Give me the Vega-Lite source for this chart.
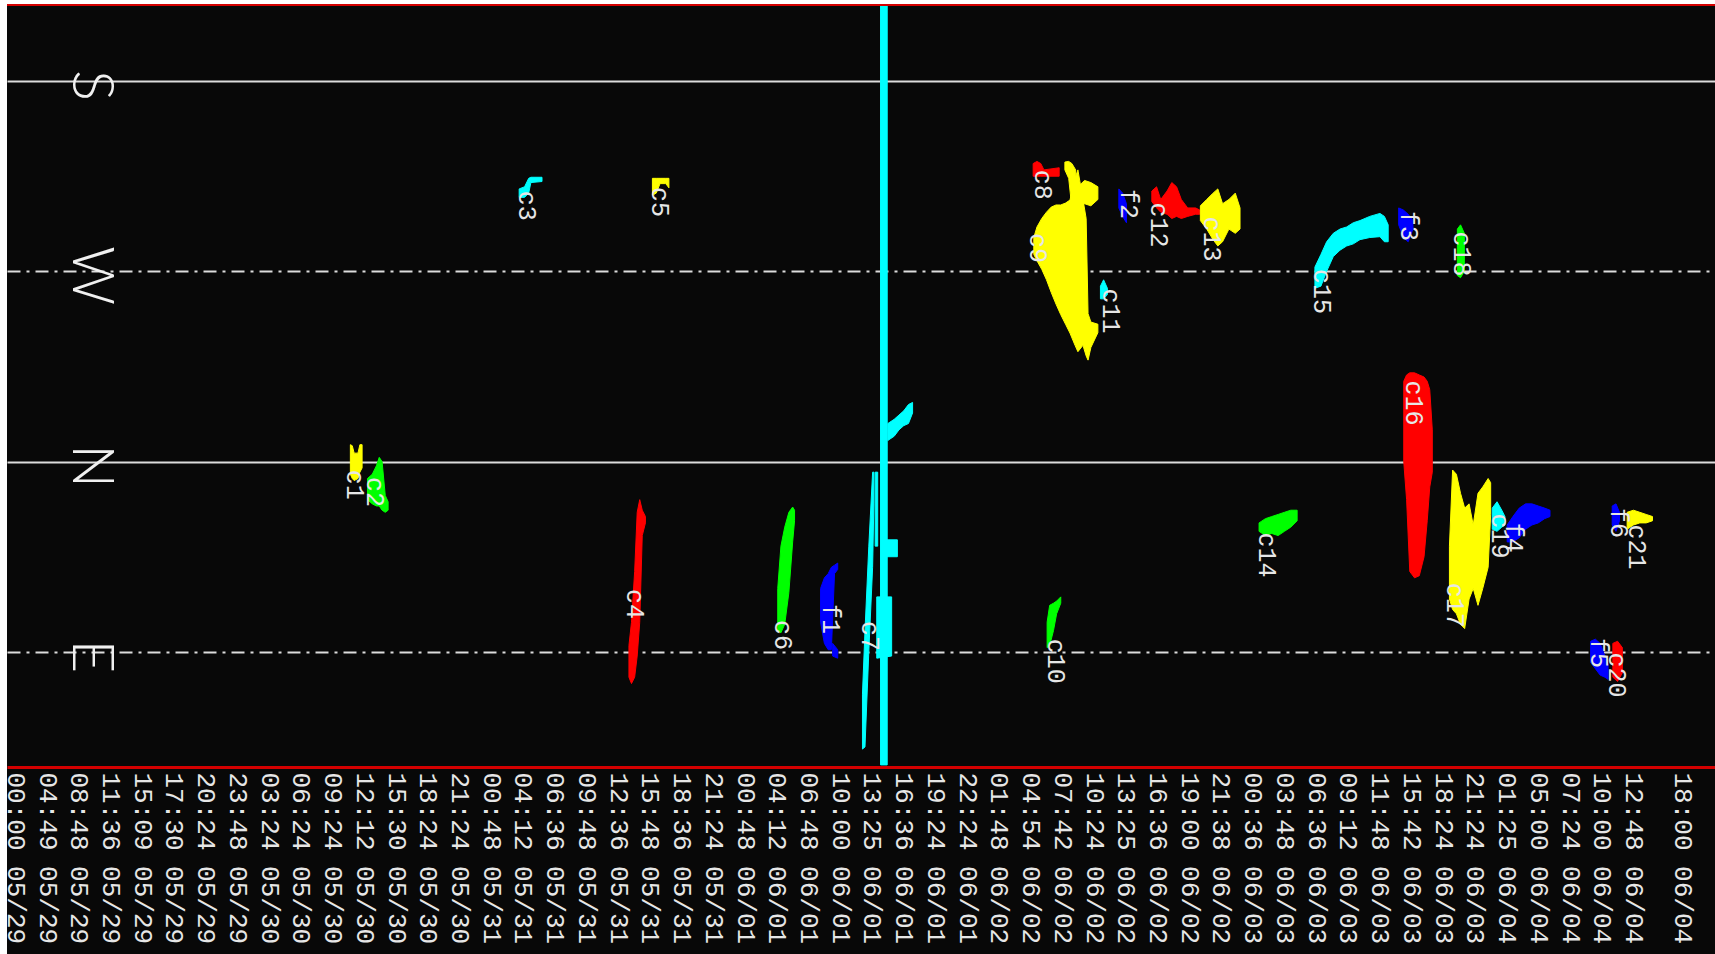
{
  "$schema": "https://vega.github.io/schema/vega-lite/v6.json",
  "width": 1708,
  "height": 949,
  "autosize": {"type": "none"},
  "padding": {"left": 7, "top": 5, "right": 0, "bottom": 0},
  "background": "#ffffff",
  "config": {"view": {"fill": "#080808", "stroke": null}},
  "datasets": {
    "clusters": [
      {"c":"c1","p":"c1","t":10.56,"lo":352,"hi":366},{"c":"c1","p":"c1","t":10.62,"lo":352.5,"hi":368},{"c":"c1","p":"c1","t":10.68,"lo":356,"hi":369},{"c":"c1","p":"c1","t":10.8,"lo":356,"hi":368},{"c":"c1","p":"c1","t":10.86,"lo":352,"hi":365},{"c":"c1","p":"c1","t":10.93,"lo":352,"hi":363},
      {"c":"c2","p":"c2","t":11.1,"lo":368,"hi":378},{"c":"c2","p":"c2","t":11.25,"lo":366,"hi":380},{"c":"c2","p":"c2","t":11.38,"lo":362,"hi":381},{"c":"c2","p":"c2","t":11.47,"lo":358,"hi":381},{"c":"c2","p":"c2","t":11.56,"lo":360,"hi":383},{"c":"c2","p":"c2","t":11.66,"lo":376,"hi":384},{"c":"c2","p":"c2","t":11.75,"lo":379,"hi":383},
      {"c":"c3","p":"c3","t":15.88,"lo":231,"hi":235},{"c":"c3","p":"c3","t":16.05,"lo":230,"hi":235},{"c":"c3","p":"c3","t":16.18,"lo":226,"hi":233},{"c":"c3","p":"c3","t":16.25,"lo":225.5,"hi":228},{"c":"c3","p":"c3","t":16.6,"lo":225.5,"hi":227.5},
      {"c":"c4","p":"c4","t":19.34,"lo":447,"hi":462},{"c":"c4","p":"c4","t":19.42,"lo":436,"hi":465},{"c":"c4","p":"c4","t":19.52,"lo":412,"hi":462},{"c":"c4","p":"c4","t":19.6,"lo":384,"hi":452},{"c":"c4","p":"c4","t":19.68,"lo":378,"hi":436},{"c":"c4","p":"c4","t":19.76,"lo":383,"hi":395},{"c":"c4","p":"c4","t":19.86,"lo":386,"hi":389},
      {"c":"c5","p":"c5","t":20.08,"lo":226,"hi":234},{"c":"c5","p":"c5","t":20.2,"lo":226,"hi":233},{"c":"c5","p":"c5","t":20.32,"lo":226,"hi":228.5},{"c":"c5","p":"c5","t":20.5,"lo":226,"hi":228.5},{"c":"c5","p":"c5","t":20.6,"lo":226,"hi":230.5},
      {"c":"c6","p":"c6","t":24.03,"lo":420,"hi":440},{"c":"c6","p":"c6","t":24.13,"lo":400,"hi":441},{"c":"c6","p":"c6","t":24.25,"lo":391,"hi":437},{"c":"c6","p":"c6","t":24.38,"lo":384,"hi":422},{"c":"c6","p":"c6","t":24.5,"lo":381.5,"hi":398},{"c":"c6","p":"c6","t":24.56,"lo":383,"hi":388},
      {"c":"f1","p":"f1a","t":25.38,"lo":420,"hi":436},{"c":"f1","p":"f1a","t":25.5,"lo":415,"hi":446},{"c":"f1","p":"f1a","t":25.62,"lo":413,"hi":449},{"c":"f1","p":"f1a","t":25.72,"lo":410,"hi":449},{"c":"f1","p":"f1a","t":25.82,"lo":409,"hi":413},{"c":"f1","p":"f1a","t":25.92,"lo":408,"hi":411},
      {"c":"f1","p":"f1b","t":25.76,"lo":446,"hi":452},{"c":"f1","p":"f1b","t":25.92,"lo":449,"hi":453},
      {"c":"c7","p":"c7a","t":27.27,"lo":144,"hi":503.5},{"c":"c7","p":"c7a","t":27.48,"lo":144,"hi":503.5},
      {"c":"c7","p":"c7b","t":27.5,"lo":342,"hi":350},{"c":"c7","p":"c7b","t":27.7,"lo":340,"hi":348},{"c":"c7","p":"c7b","t":27.85,"lo":338,"hi":345},{"c":"c7","p":"c7b","t":28.0,"lo":336,"hi":343},{"c":"c7","p":"c7b","t":28.15,"lo":333,"hi":342},{"c":"c7","p":"c7b","t":28.28,"lo":332,"hi":337},
      {"c":"c7","p":"c7c","t":26.7,"lo":470,"hi":496},{"c":"c7","p":"c7c","t":26.78,"lo":440,"hi":495},{"c":"c7","p":"c7c","t":26.9,"lo":400,"hi":450},{"c":"c7","p":"c7c","t":27.02,"lo":365,"hi":410},{"c":"c7","p":"c7c","t":27.06,"lo":365,"hi":380},
      {"c":"c7","p":"c7d","t":27.45,"lo":397,"hi":405},{"c":"c7","p":"c7d","t":27.8,"lo":397,"hi":405},
      {"c":"c7","p":"c7e","t":27.15,"lo":424,"hi":453},{"c":"c7","p":"c7e","t":27.62,"lo":424,"hi":452},
      {"c":"c7","p":"c7f","t":27.1,"lo":365,"hi":400},{"c":"c7","p":"c7f","t":27.18,"lo":365,"hi":400},
      {"c":"c8","p":"c8","t":32.08,"lo":219,"hi":225},{"c":"c8","p":"c8","t":32.2,"lo":218,"hi":225},{"c":"c8","p":"c8","t":32.32,"lo":219,"hi":225},{"c":"c8","p":"c8","t":32.42,"lo":222,"hi":225},{"c":"c8","p":"c8","t":32.9,"lo":221,"hi":225},
      {"c":"c9","p":"c9a","t":32.1,"lo":254,"hi":262},{"c":"c9","p":"c9a","t":32.2,"lo":249,"hi":265},{"c":"c9","p":"c9a","t":32.35,"lo":245,"hi":269},{"c":"c9","p":"c9a","t":32.5,"lo":242,"hi":274},{"c":"c9","p":"c9a","t":32.65,"lo":239.6,"hi":280},{"c":"c9","p":"c9a","t":32.8,"lo":238.6,"hi":285.5},{"c":"c9","p":"c9a","t":32.95,"lo":238.6,"hi":290.5},{"c":"c9","p":"c9a","t":33.1,"lo":237.7,"hi":295},{"c":"c9","p":"c9a","t":33.24,"lo":236.3,"hi":299.2},{"c":"c9","p":"c9a","t":33.4,"lo":226,"hi":305},{"c":"c9","p":"c9a","t":33.49,"lo":222,"hi":308},{"c":"c9","p":"c9a","t":33.65,"lo":236,"hi":305},{"c":"c9","p":"c9a","t":33.75,"lo":245,"hi":310},{"c":"c9","p":"c9a","t":33.81,"lo":290,"hi":312},{"c":"c9","p":"c9a","t":33.9,"lo":294,"hi":306},{"c":"c9","p":"c9a","t":34.12,"lo":295,"hi":299},
      {"c":"c9","p":"c9b","t":33.08,"lo":218.3,"hi":222},{"c":"c9","p":"c9b","t":33.2,"lo":218,"hi":226},{"c":"c9","p":"c9b","t":33.3,"lo":219,"hi":240},{"c":"c9","p":"c9b","t":33.42,"lo":222,"hi":240},
      {"c":"c9","p":"c9c","t":33.56,"lo":229,"hi":240},{"c":"c9","p":"c9c","t":33.7,"lo":227,"hi":238},{"c":"c9","p":"c9c","t":33.9,"lo":228,"hi":239},{"c":"c9","p":"c9c","t":34.12,"lo":230,"hi":236},
      {"c":"c10","p":"c10","t":32.52,"lo":436,"hi":448},{"c":"c10","p":"c10","t":32.6,"lo":428,"hi":447},{"c":"c10","p":"c10","t":32.72,"lo":427,"hi":440},{"c":"c10","p":"c10","t":32.82,"lo":426,"hi":432},{"c":"c10","p":"c10","t":32.95,"lo":424,"hi":427},
      {"c":"c11","p":"c11","t":34.2,"lo":277,"hi":283},{"c":"c11","p":"c11","t":34.3,"lo":274,"hi":283},{"c":"c11","p":"c11","t":34.42,"lo":278,"hi":281},
      {"c":"f2","p":"f2","t":34.78,"lo":231,"hi":240},{"c":"f2","p":"f2","t":34.9,"lo":233,"hi":244},{"c":"f2","p":"f2","t":35.02,"lo":238,"hi":247},
      {"c":"c12","p":"c12","t":35.82,"lo":232,"hi":237},{"c":"c12","p":"c12","t":35.97,"lo":230,"hi":240},{"c":"c12","p":"c12","t":36.1,"lo":236,"hi":242},{"c":"c12","p":"c12","t":36.3,"lo":232,"hi":243},{"c":"c12","p":"c12","t":36.45,"lo":228,"hi":245},{"c":"c12","p":"c12","t":36.6,"lo":230,"hi":244},{"c":"c12","p":"c12","t":36.75,"lo":236,"hi":245},{"c":"c12","p":"c12","t":36.95,"lo":240,"hi":244},{"c":"c12","p":"c12","t":37.2,"lo":240,"hi":243},{"c":"c12","p":"c12","t":37.33,"lo":241,"hi":243},
      {"c":"c13","p":"c13","t":37.35,"lo":239,"hi":246},{"c":"c13","p":"c13","t":37.55,"lo":236,"hi":250},{"c":"c13","p":"c13","t":37.75,"lo":233,"hi":255},{"c":"c13","p":"c13","t":37.9,"lo":231,"hi":258},{"c":"c13","p":"c13","t":38.05,"lo":238,"hi":256},{"c":"c13","p":"c13","t":38.25,"lo":236,"hi":250},{"c":"c13","p":"c13","t":38.45,"lo":233,"hi":252},{"c":"c13","p":"c13","t":38.6,"lo":240,"hi":250},
      {"c":"c14","p":"c14","t":39.2,"lo":389,"hi":393},{"c":"c14","p":"c14","t":39.4,"lo":387,"hi":395},{"c":"c14","p":"c14","t":39.6,"lo":386,"hi":394},{"c":"c14","p":"c14","t":39.8,"lo":385,"hi":395},{"c":"c14","p":"c14","t":40.0,"lo":384,"hi":393},{"c":"c14","p":"c14","t":40.2,"lo":383,"hi":391},{"c":"c14","p":"c14","t":40.4,"lo":383,"hi":388},
      {"c":"c15","p":"c15","t":40.96,"lo":268,"hi":278},{"c":"c15","p":"c15","t":41.15,"lo":262,"hi":277},{"c":"c15","p":"c15","t":41.33,"lo":256,"hi":270},{"c":"c15","p":"c15","t":41.54,"lo":252,"hi":263},{"c":"c15","p":"c15","t":41.75,"lo":250,"hi":260},{"c":"c15","p":"c15","t":41.96,"lo":249,"hi":258},{"c":"c15","p":"c15","t":42.17,"lo":247,"hi":257},{"c":"c15","p":"c15","t":42.38,"lo":246,"hi":255},{"c":"c15","p":"c15","t":42.69,"lo":244,"hi":254},{"c":"c15","p":"c15","t":43.01,"lo":242.6,"hi":253.6},{"c":"c15","p":"c15","t":43.15,"lo":244,"hi":256},{"c":"c15","p":"c15","t":43.27,"lo":248,"hi":256},
      {"c":"f3","p":"f3","t":43.6,"lo":240,"hi":248},{"c":"f3","p":"f3","t":43.75,"lo":241,"hi":254},{"c":"f3","p":"f3","t":43.9,"lo":243,"hi":256},{"c":"f3","p":"f3","t":44.05,"lo":246,"hi":250},
      {"c":"c16","p":"c16","t":43.76,"lo":322,"hi":360},{"c":"c16","p":"c16","t":43.85,"lo":319,"hi":378},{"c":"c16","p":"c16","t":43.95,"lo":318,"hi":412},{"c":"c16","p":"c16","t":44.1,"lo":318,"hi":415},{"c":"c16","p":"c16","t":44.25,"lo":319,"hi":414},{"c":"c16","p":"c16","t":44.4,"lo":320,"hi":405},{"c":"c16","p":"c16","t":44.5,"lo":322,"hi":388},{"c":"c16","p":"c16","t":44.58,"lo":326,"hi":372},{"c":"c16","p":"c16","t":44.66,"lo":345,"hi":365},
      {"c":"c17","p":"c17","t":45.2,"lo":400,"hi":425},{"c":"c17","p":"c17","t":45.3,"lo":364,"hi":430},{"c":"c17","p":"c17","t":45.42,"lo":366,"hi":432},{"c":"c17","p":"c17","t":45.55,"lo":375,"hi":437},{"c":"c17","p":"c17","t":45.68,"lo":382,"hi":439},{"c":"c17","p":"c17","t":45.82,"lo":380,"hi":425},{"c":"c17","p":"c17","t":45.95,"lo":390,"hi":420},{"c":"c17","p":"c17","t":46.1,"lo":375,"hi":428},{"c":"c17","p":"c17","t":46.25,"lo":372,"hi":420},{"c":"c17","p":"c17","t":46.42,"lo":368,"hi":410},{"c":"c17","p":"c17","t":46.5,"lo":370,"hi":385},
      {"c":"c18","p":"c18","t":45.45,"lo":250,"hi":272},{"c":"c18","p":"c18","t":45.55,"lo":248,"hi":273},{"c":"c18","p":"c18","t":45.67,"lo":252,"hi":270},
      {"c":"c19","p":"c19","t":46.55,"lo":382,"hi":392},{"c":"c19","p":"c19","t":46.7,"lo":379,"hi":393},{"c":"c19","p":"c19","t":46.85,"lo":383,"hi":391},{"c":"c19","p":"c19","t":46.95,"lo":386,"hi":390},
      {"c":"f4","p":"f4","t":47.02,"lo":390,"hi":398},{"c":"f4","p":"f4","t":47.2,"lo":386,"hi":398},{"c":"f4","p":"f4","t":47.4,"lo":382,"hi":396},{"c":"f4","p":"f4","t":47.6,"lo":380,"hi":392},{"c":"f4","p":"f4","t":47.8,"lo":380,"hi":390},{"c":"f4","p":"f4","t":48.0,"lo":381,"hi":389},{"c":"f4","p":"f4","t":48.2,"lo":382,"hi":387},{"c":"f4","p":"f4","t":48.37,"lo":383,"hi":386},
      {"c":"f5","p":"f5","t":49.65,"lo":445,"hi":455},{"c":"f5","p":"f5","t":49.8,"lo":444,"hi":458},{"c":"f5","p":"f5","t":49.95,"lo":446,"hi":461},{"c":"f5","p":"f5","t":50.1,"lo":452,"hi":462},{"c":"f5","p":"f5","t":50.2,"lo":456,"hi":463},
      {"c":"f6","p":"f6","t":50.33,"lo":381,"hi":390},{"c":"f6","p":"f6","t":50.45,"lo":380,"hi":393},{"c":"f6","p":"f6","t":50.56,"lo":384,"hi":388},
      {"c":"c20","p":"c20","t":50.35,"lo":446,"hi":462},{"c":"c20","p":"c20","t":50.5,"lo":445,"hi":464},{"c":"c20","p":"c20","t":50.65,"lo":448,"hi":460},
      {"c":"c21","p":"c21","t":50.8,"lo":384,"hi":392},{"c":"c21","p":"c21","t":51.0,"lo":383,"hi":390},{"c":"c21","p":"c21","t":51.2,"lo":384,"hi":389},{"c":"c21","p":"c21","t":51.4,"lo":385,"hi":389},{"c":"c21","p":"c21","t":51.6,"lo":386,"hi":388}
    ],
    "labels": [
      {"name":"c1","t":10.72,"deg":371},{"name":"c2","t":11.34,"deg":374.4},{"name":"c3","t":16.13,"deg":239},{"name":"c4","t":19.53,"deg":427.4},{"name":"c5","t":20.32,"deg":237.2},{"name":"c6","t":24.18,"deg":442},{"name":"c7","t":26.94,"deg":442.5},{"name":"c8","t":32.39,"deg":229},{"name":"c9","t":32.23,"deg":259},{"name":"c10","t":32.8,"deg":454.4},{"name":"c11","t":34.53,"deg":288.8},{"name":"c12","t":36.05,"deg":248.1},{"name":"c13","t":37.71,"deg":254.7},{"name":"c14","t":39.45,"deg":404.2},{"name":"c15","t":41.17,"deg":279.5},{"name":"c16","t":44.08,"deg":332.3},{"name":"c17","t":45.38,"deg":427.9},{"name":"c18","t":45.6,"deg":261.8},{"name":"c19","t":46.79,"deg":395.2},{"name":"c20","t":50.48,"deg":461},{"name":"c21","t":51.11,"deg":400.4},
      {"name":"f1","t":25.71,"deg":434.5},{"name":"f2","t":35.1,"deg":238.1},{"name":"f3","t":43.92,"deg":248.5},{"name":"f4","t":47.23,"deg":396},{"name":"f5","t":49.91,"deg":450.6},{"name":"f6","t":50.54,"deg":389}
    ]
  },
  "layer": [
    {
      "data": {"name": "clusters"},
      "mark": {"type": "area", "strokeWidth": 1, "opacity": 1, "fillOpacity": 1},
      "encoding": {
        "x": {
          "field": "t", "type": "quantitative",
          "scale": {"domain": [-0.262, 53.57], "nice": false, "zero": false},
          "axis": {
            "orient": "bottom", "offset": -187, "title": null, "grid": false, "tickCount": 100,
            "values": [0,1,2,3,4,5,6,7,8,9,10,11,12,13,14,15,16,17,18,19,20,21,22,23,24,25,26,27,28,29,30,31,32,33,34,35,36,37,38,39,40,41,42,43,44,45,46,47,48,49,50,51,52.56],
            "labelExpr": "['00:00 05/29','04:49 05/29','08:48 05/29','11:36 05/29','15:09 05/29','17:30 05/29','20:24 05/29','23:48 05/29','03:24 05/30','06:24 05/30','09:24 05/30','12:12 05/30','15:30 05/30','18:24 05/30','21:24 05/30','00:48 05/31','04:12 05/31','06:36 05/31','09:48 05/31','12:36 05/31','15:48 05/31','18:36 05/31','21:24 05/31','00:48 06/01','04:12 06/01','06:48 06/01','10:00 06/01','13:25 06/01','16:36 06/01','19:24 06/01','22:24 06/01','01:48 06/02','04:54 06/02','07:42 06/02','10:24 06/02','13:25 06/02','16:36 06/02','19:00 06/02','21:38 06/02','00:36 06/03','03:48 06/03','06:36 06/03','09:12 06/03','11:48 06/03','15:42 06/03','18:24 06/03','21:24 06/03','01:25 06/04','05:00 06/04','07:24 06/04','10:00 06/04','12:48 06/04','','18:00 06/04'][round(datum.value)]",
            "labelAngle": 90, "labelAlign": "left", "labelBaseline": "middle",
            "labelPadding": 5, "ticks": false, "tickSize": 0,
            "domain": true, "domainColor": "#d40000", "domainWidth": 3,
            "labelFont": "Liberation Mono", "labelFontSize": 26, "labelColor": "#e6e6e6",
            "labelFlush": false, "labelOverlap": false, "labelBound": false
          }
        },
        "y": {
          "field": "lo", "type": "quantitative", "stack": null,
          "scale": {"domain": [144, 592.94], "reverse": true, "nice": false, "zero": false},
          "axis": {
            "orient": "left", "title": null, "values": [180, 270, 360, 450], "tickCount": 10,
            "labelExpr": "datum.value == 180 ? 'S' : datum.value == 270 ? 'W' : datum.value == 360 ? 'N' : 'E'",
            "labelAngle": 90, "labelAlign": "center", "labelBaseline": "middle",
            "labelPadding": -82, "labelOffset": 4, "ticks": false, "tickSize": 0, "domain": false,
            "labelFont": "Lato", "labelFontWeight": 300, "labelFontSize": 58, "labelColor": "#f0f0f0",
            "labelFlush": false, "labelOverlap": false,
            "grid": true, "gridColor": "#dcdcdc", "gridWidth": 2,
            "gridDash": {"condition": {"test": "datum.value == 270 || datum.value == 450", "value": [13, 6, 3, 6]}, "value": []}
          }
        },
        "y2": {"field": "hi"},
        "color": {
          "field": "c", "type": "nominal", "legend": null,
          "scale": {
            "domain": ["c1","c2","c3","c4","c5","c6","c7","c8","c9","c10","c11","c12","c13","c14","c15","c16","c17","c18","c19","c20","c21","f1","f2","f3","f4","f5","f6"],
            "range": ["#ffff00","#00ff00","#00ffff","#ff0000","#ffff00","#00ff00","#00ffff","#ff0000","#ffff00","#00ff00","#00ffff","#ff0000","#ffff00","#00ff00","#00ffff","#ff0000","#ffff00","#00ff00","#00ffff","#ff0000","#ffff00","#0000ff","#0000ff","#0000ff","#0000ff","#0000ff","#0000ff"]
          }
        },
        "stroke": {
          "field": "c", "type": "nominal", "legend": null,
          "scale": {
            "domain": ["c1","c2","c3","c4","c5","c6","c7","c8","c9","c10","c11","c12","c13","c14","c15","c16","c17","c18","c19","c20","c21","f1","f2","f3","f4","f5","f6"],
            "range": ["#ffff00","#00ff00","#00ffff","#ff0000","#ffff00","#00ff00","#00ffff","#ff0000","#ffff00","#00ff00","#00ffff","#ff0000","#ffff00","#00ff00","#00ffff","#ff0000","#ffff00","#00ff00","#00ffff","#ff0000","#ffff00","#0000ff","#0000ff","#0000ff","#0000ff","#0000ff","#0000ff"]
          }
        },
        "detail": {"field": "p"}
      }
    },
    {
      "data": {"name": "labels"},
      "mark": {"type": "text", "angle": 90, "align": "center", "baseline": "middle", "font": "Liberation Mono", "fontSize": 25, "color": "#e6e6e6"},
      "encoding": {
        "x": {"field": "t", "type": "quantitative"},
        "y": {"field": "deg", "type": "quantitative"},
        "text": {"field": "name"}
      }
    },
    {
      "data": {"values": [{}]},
      "mark": {"type": "rule", "color": "#d40000", "strokeWidth": 2},
      "encoding": {"y": {"datum": 144, "type": "quantitative"}}
    }
  ]
}
